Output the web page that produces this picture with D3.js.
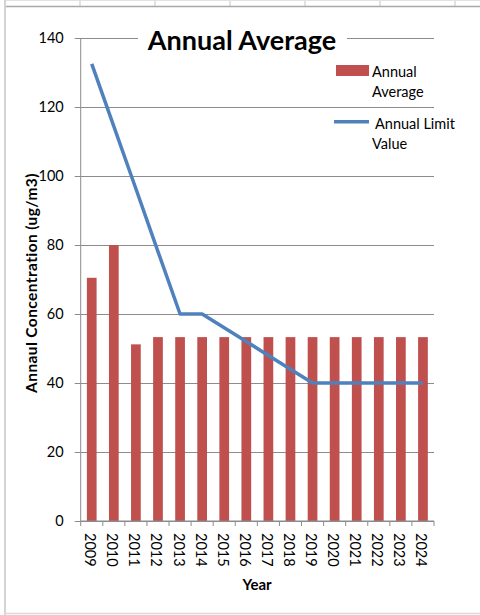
<!DOCTYPE html>
<html>
<head>
<meta charset="utf-8">
<script src="https://cdn.jsdelivr.net/npm/d3@7/dist/d3.min.js"></script>
<style>
  html, body { margin: 0; padding: 0; background: #fff; }
  svg { display: block; font-family: Lato, "Open Sans", sans-serif; }
</style>
</head>
<body>
<svg id="chart" width="480" height="615"></svg>
<script>
// Years on the category axis
const years = ["2009","2010","2011","2012","2013","2014","2015","2016",
               "2017","2018","2019","2020","2021","2022","2023","2024"];
// Measured annual average concentration (ug/m3)
const annualAverage = [70.5, 80, 51.2, 53.3, 53.3, 53.3, 53.3, 53.3,
                       53.3, 53.3, 53.3, 53.3, 53.3, 53.3, 53.3, 53.3];
// Annual limit value (ug/m3)
const annualLimit = [132.5, 114.4, 96.3, 78.1, 60, 60, 56, 52,
                     48, 44, 40, 40, 40, 40, 40, 40];
// Value axis ticks
const yTicks = [0, 20, 40, 60, 80, 100, 120, 140];

const svg = d3.select("#chart");
const W = 480, H = 615;
const plot = { left: 80.7, right: 434, top: 38, bottom: 521 };

const barColor = "#C0504D";
const lineColor = "#4F81BD";
const gridColor = "#8c8c8c";

// Sheet frame around the chart object
const frame = svg.append("g");
[80, 155, 230, 305, 380, 455].forEach(x => {
  frame.append("line").attr("x1", x).attr("x2", x).attr("y1", 0).attr("y2", 6)
    .attr("stroke", "#d9d9d9").attr("stroke-width", 1.5);
});
frame.append("line").attr("x1", 4).attr("x2", W).attr("y1", 0.5).attr("y2", 0.5)
  .attr("stroke", "#e2e2e2");
frame.append("line").attr("x1", 4).attr("x2", W).attr("y1", 6.5).attr("y2", 6.5)
  .attr("stroke", "#a8a8a8").attr("stroke-width", 1.5);
frame.append("line").attr("x1", 5).attr("x2", 5).attr("y1", 0).attr("y2", H)
  .attr("stroke", "#d4d4d4").attr("stroke-width", 2);
frame.append("line").attr("x1", 4).attr("x2", W).attr("y1", 613.5).attr("y2", 613.5)
  .attr("stroke", "#d9d9d9").attr("stroke-width", 1.5);

// Scales
const x = d3.scaleBand().domain(years).range([plot.left, plot.right])
  .paddingInner(0.56).paddingOuter(0.28);
const xc = d => x(d) + x.bandwidth() / 2;
const y = d3.scaleLinear().domain([0, 140]).range([plot.bottom, plot.top]);

// Horizontal gridlines
svg.append("g")
  .attr("transform", `translate(${plot.left},0)`)
  .call(d3.axisLeft(y).tickValues(yTicks).tickSize(-(plot.right - plot.left)).tickFormat(""))
  .call(g => g.select(".domain").remove())
  .call(g => g.selectAll("line").attr("stroke", gridColor).attr("stroke-width", 1));

// Value axis with tick marks and labels
svg.append("g")
  .attr("transform", `translate(${plot.left},0)`)
  .call(d3.axisLeft(y).tickValues(yTicks).tickSize(6).tickPadding(11))
  .call(g => g.select(".domain").attr("stroke", gridColor).attr("d", `M0,${plot.top}V${plot.bottom}`))
  .call(g => g.selectAll("line").attr("stroke", gridColor))
  .call(g => g.selectAll("text").attr("font-family", "Lato, sans-serif")
    .attr("font-size", 14.5).attr("fill", "#000"));

// Bars
svg.append("g").selectAll("rect")
  .data(years.map((yr, i) => ({ yr, v: annualAverage[i] })))
  .join("rect")
  .attr("x", d => x(d.yr))
  .attr("width", x.bandwidth())
  .attr("y", d => y(d.v))
  .attr("height", d => y(0) - y(d.v))
  .attr("fill", barColor);

// Category axis: boundary ticks below the baseline
const step = x.step();
svg.append("line")
  .attr("x1", plot.left).attr("x2", plot.right)
  .attr("y1", plot.bottom).attr("y2", plot.bottom)
  .attr("stroke", gridColor);
svg.append("g").selectAll("line")
  .data(d3.range(years.length + 1))
  .join("line")
  .attr("x1", i => plot.left + i * step).attr("x2", i => plot.left + i * step)
  .attr("y1", plot.bottom).attr("y2", plot.bottom + 5)
  .attr("stroke", gridColor);
svg.append("g").selectAll("text")
  .data(years)
  .join("text")
  .attr("transform", d => `translate(${xc(d) - 1},533) rotate(90)`)
  .attr("dominant-baseline", "central")
  .attr("font-size", 14.5)
  .text(d => d);

// Limit value line
const line = d3.line().x((d, i) => xc(years[i])).y(d => y(d));
svg.append("path")
  .datum(annualLimit)
  .attr("d", line)
  .attr("fill", "none")
  .attr("stroke", lineColor)
  .attr("stroke-width", 3.5)
  .attr("stroke-linejoin", "round");

// Title with white backing over the top gridline
svg.append("rect").attr("x", 138).attr("y", 22).attr("width", 209).attr("height", 34).attr("fill", "#fff");
svg.append("text")
  .attr("x", 242).attr("y", 49.5)
  .attr("text-anchor", "middle")
  .attr("font-weight", "bold")
  .attr("font-size", 27)
  .text("Annual Average");

// Legend
const lg = svg.append("g").attr("font-size", 14.5);
lg.append("rect").attr("x", 336).attr("y", 65).attr("width", 33).attr("height", 11).attr("fill", barColor);
lg.append("text").attr("x", 372).attr("y", 77).text("Annual");
lg.append("text").attr("x", 372).attr("y", 97).text("Average");
lg.append("line").attr("x1", 334).attr("x2", 369).attr("y1", 121.7).attr("y2", 121.7)
  .attr("stroke", lineColor).attr("stroke-width", 3.5);
lg.append("text").attr("x", 375).attr("y", 128.5).text("Annual Limit");
lg.append("text").attr("x", 372).attr("y", 148.5).text("Value");

// Axis titles
svg.append("text")
  .attr("transform", "translate(36.5,283) rotate(-90)")
  .attr("text-anchor", "middle")
  .attr("font-weight", "bold")
  .attr("font-size", 15.5)
  .attr("letter-spacing", 0.4)
  .text("Annaul Concentration (ug/m3)");
svg.append("text")
  .attr("x", 257).attr("y", 590)
  .attr("text-anchor", "middle")
  .attr("font-weight", "bold")
  .attr("font-size", 15)
  .text("Year");
</script>
</body>
</html>
